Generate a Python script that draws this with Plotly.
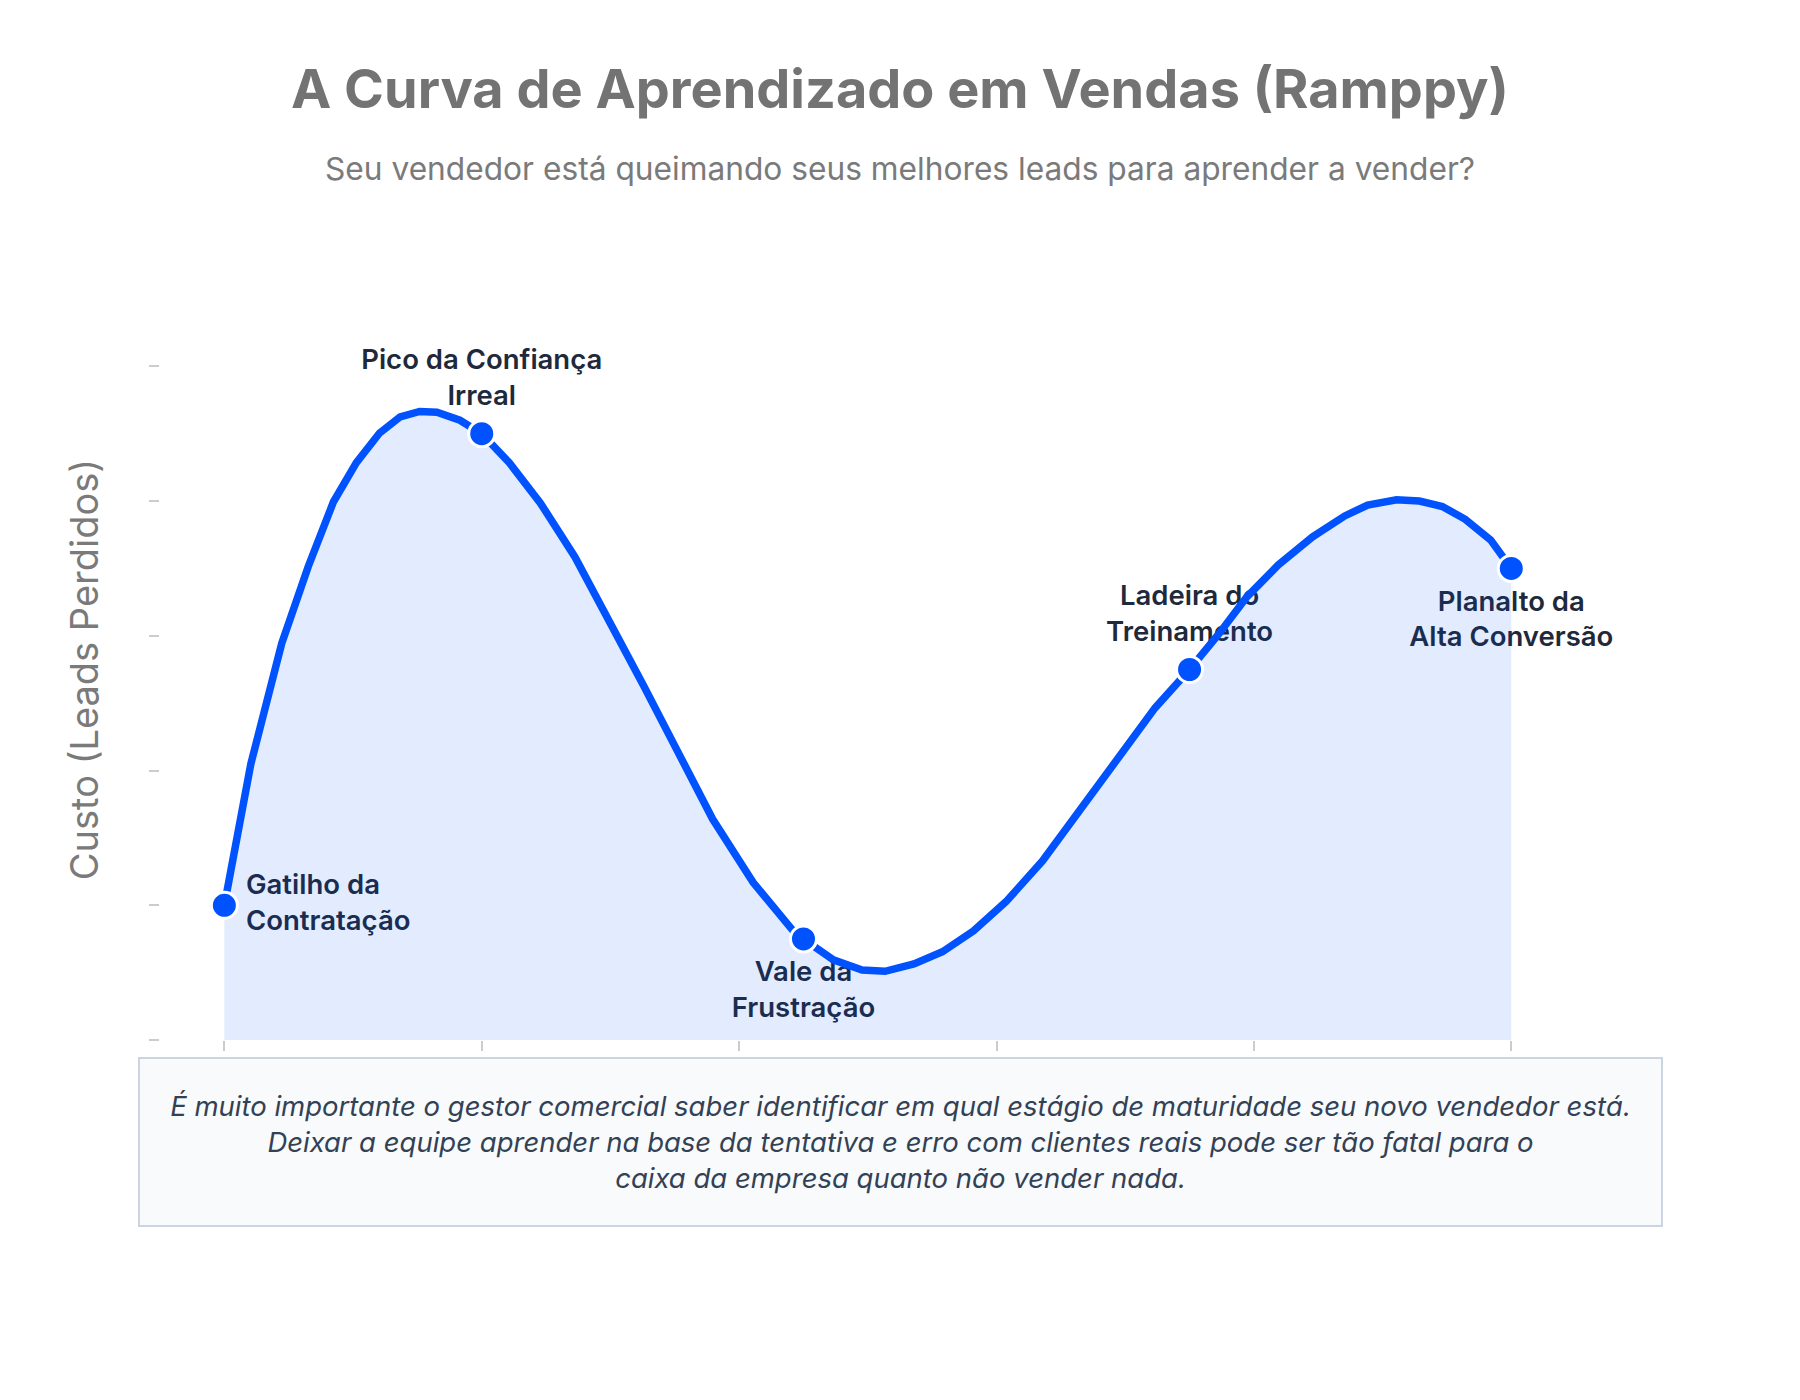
import plotly.graph_objects as go

# Curve
curve_x = [0, 2.06, 4.46, 6.52, 8.48, 10.26, 12.06, 13.66, 15.18, 16.52, 18.3, 20,
           22.14, 24.56, 27.24, 29.92, 32.58, 35.26, 37.94, 41.08, 44.2, 45,
           47.32, 49.56, 51.34, 53.58, 55.8, 58.22, 60.72, 63.58, 66.52, 69.64,
           72.32, 75, 77.24, 79.46, 81.88, 84.56, 87.06, 88.84, 91.08, 92.86,
           94.64, 96.42, 98.4, 100]
curve_y = [20, 41.0, 58.9, 70.3, 79.9, 85.7, 90.1, 92.5, 93.3, 93.2, 92.0, 90,
           85.7, 79.7, 71.7, 62.3, 52.6, 42.7, 32.8, 23.4, 16.2, 15,
           11.9, 10.4, 10.2, 11.3, 13.1, 16.2, 20.5, 26.6, 34.1, 42.3,
           49.3, 55, 60.2, 65.8, 70.5, 74.7, 77.8, 79.4, 80.2, 80.0,
           79.2, 77.3, 74.2, 70]

# Stages
stage_x = [0, 20, 45, 75, 100]
stage_y = [20, 90, 15, 55, 70]
stage_labels = ["Gatilho da<br>Contratação", "Pico da Confiança<br>Irreal",
                "Vale da<br>Frustração", "Ladeira do<br>Treinamento",
                "Planalto da<br>Alta Conversão"]
stage_pos = ["middle right", "top center", "bottom center", "top center", "bottom center"]

axis_ticks = [0, 20, 40, 60, 80, 100]

title_text = "A Curva de Aprendizado em Vendas (Ramppy)"
subtitle_text = "Seu vendedor está queimando seus melhores leads para aprender a vender?"
y_title = "Custo (Leads Perdidos)"
note_text = ("É muito importante o gestor comercial saber identificar em qual estágio de maturidade seu novo vendedor está.<br>"
             "Deixar a equipe aprender na base da tentativa e erro com clientes reais pode ser tão fatal para o<br>"
             "caixa da empresa quanto não vender nada.")

BLUE = "#0052FF"
FONT = "Inter, Liberation Sans, Arial, sans-serif"

fig = go.Figure()
# labels (drawn beneath the curve)
fig.add_trace(go.Scatter(
    x=stage_x, y=stage_y, mode="markers+text",
    marker=dict(color="rgba(0,0,0,0)", size=33, line=dict(color="rgba(0,0,0,0)", width=0)),
    text=stage_labels, textposition=stage_pos,
    textfont=dict(family=FONT, size=27.5, color="#1e293b", weight=600),
    hoverinfo="skip", showlegend=False,
))
# curve with area fill
fig.add_trace(go.Scatter(
    x=curve_x, y=curve_y, mode="lines",
    line=dict(color=BLUE, width=7.5),
    fill="tozeroy", fillcolor="rgba(0,82,255,0.11)",
    hoverinfo="skip", showlegend=False,
))
# stage markers
fig.add_trace(go.Scatter(
    x=stage_x, y=stage_y, mode="markers",
    marker=dict(color=BLUE, size=26, line=dict(color="white", width=3)),
    text=stage_labels, hoverinfo="text", showlegend=False,
))

fig.add_annotation(text=f"<b>{title_text}</b>", xref="paper", yref="paper",
                   x=0.5, y=1.284, xanchor="center", yanchor="middle", showarrow=False,
                   font=dict(family=FONT, size=54, color="#737373"))
fig.add_annotation(text=subtitle_text, xref="paper", yref="paper",
                   x=0.5, y=1.1755, xanchor="center", yanchor="middle", showarrow=False,
                   font=dict(family=FONT, size=31.7, color="#7a7a7a"))
fig.add_annotation(text=f"<i>{note_text}</i>", xref="paper", yref="paper",
                   x=0.5, y=-0.1377, xanchor="center", yanchor="middle", showarrow=False,
                   width=1521, height=166, align="center",
                   bgcolor="#F8FAFC", bordercolor="#CBD5E1", borderwidth=2, borderpad=0,
                   font=dict(family=FONT, size=27.5, color="#334155"))

fig.update_xaxes(range=[-5, 110], tickvals=axis_ticks, showticklabels=False,
                 ticks="outside", ticklen=10, tickcolor="#cccccc", tickwidth=1.5,
                 showgrid=False, zeroline=False, showline=False)
fig.update_yaxes(range=[0, 110], tickvals=axis_ticks, showticklabels=False,
                 ticks="outside", ticklen=10, tickcolor="#cccccc", tickwidth=1.5,
                 showgrid=False, zeroline=False, showline=False,
                 title=dict(text=y_title, standoff=38,
                            font=dict(family=FONT, size=38, color="#7a7a7a")))

fig.update_layout(
    width=1800, height=1400,
    margin=dict(l=152, r=168, t=291, b=368),
    paper_bgcolor="white", plot_bgcolor="white",
    font=dict(family=FONT),
)

fig.write_html("out.html")
